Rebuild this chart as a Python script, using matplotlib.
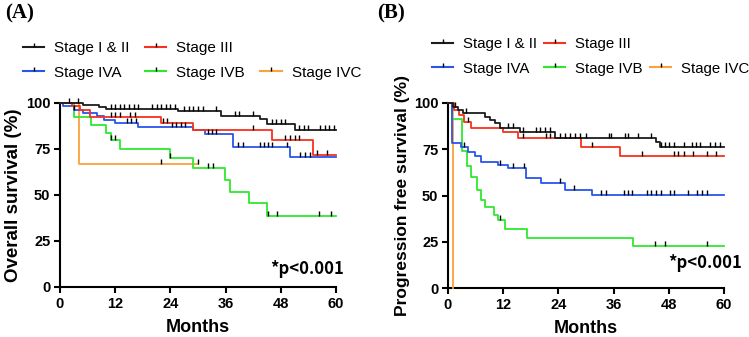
import numpy as np
import matplotlib.pyplot as plt
from matplotlib.lines import Line2D

plt.rcParams['font.family'] = ['Liberation Sans', 'DejaVu Sans']

groups = ["Stage I & II", "Stage III", "Stage IVA", "Stage IVB", "Stage IVC"]
colors = ["#1c1c1c", "#f8321e", "#2a55ec", "#2ee82e", "#fba33a"]

# ---- overall survival (A): step times, survival after each step, censor times
os_t_12 = [0, 5, 8.5, 10, 25.7, 35.1, 43.5, 45.1, 51.1, 60]
os_s_12 = [100, 99, 98, 96.7, 95.5, 93.1, 91.3, 88.4, 85.3, 85.3]
os_c_12 = [2, 4, 11, 12, 13, 14, 15, 16, 17, 20, 21, 22, 23, 24, 25, 27, 28, 29, 30, 31,
           34, 38, 39, 42, 46, 47, 48, 49, 52, 53, 54, 56.5, 57.5, 58.5, 59.5]
os_t_3 = [0, 2.5, 4.3, 6.5, 22, 29, 46, 55, 60]
os_s_3 = [100, 98.5, 96, 92.3, 89, 85.5, 79.7, 71.5, 71.5]
os_c_3 = [11, 12, 13, 15.2, 16.3, 22.3, 23.3, 42, 49, 50, 51, 52, 55.8, 58]
os_t_4a = [0, 0.7, 3, 5, 8, 9.5, 12, 17, 29, 31.5, 37.7, 50, 60]
os_s_4a = [100, 98.5, 96, 94.5, 93, 91, 89, 87, 85.5, 83, 76, 70.7, 70.7]
os_c_4a = [3, 14.5, 15.5, 16.5, 24.3, 25.3, 26.2, 27.2, 32.2, 33, 34, 38.8, 39.8,
           43.5, 44.4, 45.3, 46, 49.4, 52.2, 53.3, 54.3]
os_t_4b = [0, 3, 6.7, 10.1, 11, 13, 23.9, 29, 35.9, 37, 41, 44.9, 60]
os_s_4b = [100, 92.5, 88, 83.5, 79.9, 74.8, 70.3, 64.5, 58.2, 51.8, 45.5, 38.8, 38.8]
os_c_4b = [11.1, 12, 24, 32.2, 33.3, 45.3, 47.1, 56.2, 59]
os_t_4c = [0, 4.1, 30]
os_s_4c = [100, 66.7, 66.7]
os_c_4c = [22, 30]

# ---- progression free survival (B)
pfs_t_12 = [0, 1.1, 2.2, 3.3, 8, 9.1, 10.2, 11.3, 15.6, 23.2, 45.2, 46, 60]
pfs_s_12 = [100, 97.8, 96.2, 94.4, 92.6, 90.8, 89, 86.3, 84.5, 81.2, 78.7, 76.4, 76.4]
pfs_c_12 = [1.5, 4, 13, 14.1, 16.3, 19.1, 20, 21, 22.1, 24.3, 25.4, 26.5, 27.6, 28.7, 30,
            34.9, 35.4, 38.5, 39.2, 41.2, 44.1, 46.4, 47.2, 48, 49.2, 51.2, 53, 53.9, 54.8,
            57, 58, 59.2]
pfs_t_3 = [0, 1.3, 2.5, 3.5, 5.1, 12, 15.2, 29, 37.3, 60]
pfs_s_3 = [100, 96.3, 93.5, 90, 86.5, 84.5, 80.9, 76.4, 71.4, 71.4]
pfs_c_3 = [4.3, 16.3, 21.4, 22.2, 31.2, 42.1, 49.2, 50.1, 51.2, 53.2, 56.2, 58.3]
pfs_t_4a = [0, 0.8, 2.9, 4.3, 5.8, 7.2, 10.9, 13, 17, 20.3, 25.4, 31.2, 60]
pfs_s_4a = [100, 78.2, 76.4, 73.7, 71.5, 68.3, 66.5, 65, 59.3, 56.6, 53, 50.5, 50.5]
pfs_c_4a = [3.5, 11.2, 14.1, 16.5, 24.4, 27.3, 33.3, 34.3, 38.3, 39.1, 40.1, 43.3, 44.2,
            45.3, 46.4, 48.2, 49.1, 52.2, 54.2, 55.3, 56.3]
pfs_t_4b = [0, 0.8, 3, 4.2, 5.1, 6.2, 7.1, 8.1, 10, 10.9, 12.3, 17.2, 40.2, 60]
pfs_s_4b = [100, 91.5, 73.8, 65.7, 60, 53, 47.7, 44, 39.5, 36.8, 31.7, 27.2, 22.7, 22.7]
pfs_c_4b = [11.2, 45.1, 47.1, 56.2]
pfs_t_4c = [0, 1.1]
pfs_s_4c = [100, 0]
pfs_c_4c = []

os_data = [(os_t_12, os_s_12, os_c_12), (os_t_3, os_s_3, os_c_3), (os_t_4a, os_s_4a, os_c_4a),
           (os_t_4b, os_s_4b, os_c_4b), (os_t_4c, os_s_4c, os_c_4c)]
pfs_data = [(pfs_t_12, pfs_s_12, pfs_c_12), (pfs_t_3, pfs_s_3, pfs_c_3),
            (pfs_t_4a, pfs_s_4a, pfs_c_4a), (pfs_t_4b, pfs_s_4b, pfs_c_4b),
            (pfs_t_4c, pfs_s_4c, pfs_c_4c)]

W, H = 749, 337
fig = plt.figure(figsize=(W / 100, H / 100), dpi=100)


def draw_km(ax, data):
    # draw back to front: IVC, IVB, IVA, III, I&II
    for i in [4, 3, 2, 1, 0]:
        t, s, c = data[i]
        t = np.array(t, float)
        s = np.array(s, float)
        ax.step(t, s, where='post', color=colors[i], lw=1.3, clip_on=False, zorder=3 + (4 - i))
        if len(c):
            c = np.array(c, float)
            idx = np.searchsorted(t, c, side='right') - 1
            ax.plot(c, s[idx], ls='none', marker=2, ms=3.5, mew=1.0, color='k',
                    clip_on=False, zorder=10)


def style(ax, ylabel, yfs):
    ax.set_xlim(0, 60)
    ax.set_ylim(0, 100)
    ax.set_xticks(np.arange(0, 61, 12))
    ax.set_yticks([0, 25, 50, 75, 100])
    for sp in ['top', 'right']:
        ax.spines[sp].set_visible(False)
    for sp in ['left', 'bottom']:
        ax.spines[sp].set_linewidth(1.5)
    ax.tick_params(width=1.5, length=4, labelsize=10.5, pad=3)
    for lab in ax.get_xticklabels() + ax.get_yticklabels():
        lab.set_fontweight('bold')
    ax.set_xlabel("Months", fontsize=13, fontweight='bold', labelpad=6)
    ax.set_ylabel(ylabel, fontsize=yfs, fontweight='bold', labelpad=3)


def legend(ax, x, y, colsp, fs):
    # column-wise fill: col1 I&II/IVA, col2 III/IVB, col3 blank/IVC
    order = [0, 2, 1, 3, None, 4]
    handles, labels = [], []
    for i in order:
        if i is None:
            handles.append(Line2D([0], [0], color='none', lw=0))
            labels.append('')
        else:
            handles.append(Line2D([0], [0], color=colors[i], lw=1.5, marker=2, ms=3,
                                  mew=1, mec='k'))
            labels.append(groups[i])
    fig.legend(handles, labels, loc='upper left',
               bbox_to_anchor=(x / W, 1 - y / H), ncol=3, frameon=False, fontsize=fs,
               handlelength=1.4, handletextpad=0.65, columnspacing=colsp,
               labelspacing=0.7, borderpad=0, borderaxespad=0)


axA = fig.add_axes([60 / W, (H - 287) / H, 276 / W, 184 / H])
draw_km(axA, os_data)
style(axA, "Overall survival (%)", 13.5)
axA.text(1.03, 0.10, "*p<0.001", transform=axA.transAxes, ha='right', va='center',
         fontsize=12, fontweight='bold', family=['Noto Sans CJK JP', 'DejaVu Sans'])
legend(axA, 23, 41, 1.0, 11)

axB = fig.add_axes([448 / W, (H - 288) / H, 276 / W, 185 / H])
draw_km(axB, pfs_data)
style(axB, "Progression free survival (%)", 12.5)
axB.text(1.065, 0.135, "*p<0.001", transform=axB.transAxes, ha='right', va='center',
         fontsize=12, fontweight='bold', family=['Noto Sans CJK JP', 'DejaVu Sans'])
legend(axB, 432, 37, 0.5, 10.8)

fig.text(5 / W, 1 - 3 / H, "(A)", ha='left', va='top', fontsize=15, fontweight='bold',
         family=['Liberation Serif', 'DejaVu Serif'])
fig.text(377 / W, 1 - 3 / H, "(B)", ha='left', va='top', fontsize=15, fontweight='bold',
         family=['Liberation Serif', 'DejaVu Serif'])

fig.savefig("out.png", dpi=100)
